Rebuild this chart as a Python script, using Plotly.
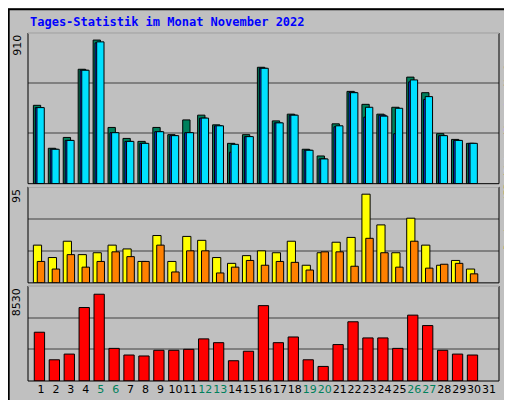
import plotly.graph_objects as go

days = list(range(1, 32))
day_labels = [str(d) for d in days]
weekend = [5, 6, 12, 13, 19, 20, 26, 27]

hits  = [478,216,282,698,876,343,276,258,343,299,389,418,359,246,299,710,383,424,210,169,365,563,484,424,466,650,555,305,270,246,None]
files = [464,210,264,692,859,311,258,246,317,293,311,400,353,192,287,704,371,418,204,151,347,557,406,418,305,621,514,293,264,246,None]
pages = [464,210,264,692,865,311,258,246,317,293,311,400,353,240,287,704,371,418,204,151,353,555,466,412,460,633,531,293,264,246,None]
visits= [37.7,25.3,41.6,28.2,30.1,37.7,33.9,21.4,47.3,21.4,46.4,42.5,25.3,19.5,27.2,32,30.1,41.6,17.6,30.1,40.6,45.4,88.6,57.9,30.1,64.6,37.7,17.6,22.4,13.8,None]
sites = [21.4,13.8,28.2,15.7,21.4,31,26.2,21.4,37.7,10.9,32,32,9.9,15.7,22.4,17.6,21.4,20.5,12.8,31,31,16.6,44.5,30.1,15.7,41.6,14.7,18.6,19.5,9,None]
kbytes= [4423,1924,2441,6663,7869,2958,2355,2269,2786,2786,2872,3820,3475,1838,2700,6835,3475,3992,1924,1321,3303,5371,3906,3906,2958,5974,5026,2786,2441,2355,None]

max_top, max_mid, max_bot = 910, 95, 8530

fig = go.Figure()
def bar(y, color, offset, width, yaxis):
    fig.add_trace(go.Bar(x=days, y=y, marker=dict(color=color, line=dict(color="black", width=1)),
                         offset=offset, width=width, yaxis=yaxis, xaxis="x", hoverinfo="skip"))

bar(hits, "#00805c", -0.51, 0.49, "y")
bar(files, "#0040ff", -0.38, 0.49, "y")
bar(pages, "#00e0ff", -0.27, 0.49, "y")
bar(visits, "#ffff00", -0.51, 0.55, "y2")
bar(sites, "#ff8000", -0.25, 0.5, "y2")
bar(kbytes, "#ff0000", -0.45, 0.69, "y3")

ticktext = [f'<span style="color:#00805c">{l}</span>' if d in weekend else l for d, l in zip(days, day_labels)]

def yax(dom, mx):
    top = mx * 1.01
    return dict(domain=dom, range=[0, top], tickvals=[top/3, 2*top/3], showticklabels=False,
                showgrid=True, gridcolor="#808080", gridwidth=1.5, zeroline=False, showline=False, ticks="")

fig.update_layout(
    width=512, height=400, barmode="overlay", showlegend=False,
    paper_bgcolor="#c0c0c0", plot_bgcolor="#c0c0c0",
    margin=dict(l=20, r=21, t=25, b=24),
    font=dict(family="DejaVu Sans Mono", size=11, color="black"),
    xaxis=dict(range=[0.13, 31.67], tickvals=days, ticktext=ticktext, showgrid=False, tickangle=0,
               zeroline=False, ticks="", tickfont=dict(family="DejaVu Sans", size=11), anchor="y3"),
    yaxis=yax([0.567, 1.0], max_top),
    yaxis2=yax([0.282, 0.558], max_mid),
    yaxis3=yax([0.0, 0.273], max_bot),
)

for dom in ([0.567, 1.0], [0.282, 0.558], [0.0, 0.273]):
    fig.add_shape(type="rect", xref="paper", yref="paper", x0=0, x1=1, y0=dom[0], y1=dom[1],
                  line=dict(color="black", width=1))
    fig.add_shape(type="line", xref="paper", yref="paper", x0=0, x1=1, y0=dom[1], y1=dom[1],
                  line=dict(color="white", width=1))

fig.add_shape(type="rect", xref="paper", yref="paper", x0=-0.041, x1=1.040, y0=-0.065, y1=1.068,
              line=dict(color="black", width=2))

fig.add_annotation(text="<b>Tages-Statistik im Monat November 2022</b>", xref="paper", yref="paper",
                   x=0, y=1.005, xanchor="left", yanchor="bottom", showarrow=False,
                   font=dict(family="DejaVu Sans Mono", size=12, color="#0000ff"))

for txt, y in ((str(max_top), 1.0), (str(max_mid), 0.558), (str(max_bot), 0.273)):
    fig.add_annotation(text=txt, xref="paper", yref="paper", x=-0.005, y=y, xanchor="right", yanchor="top",
                       textangle=-90, showarrow=False, font=dict(family="DejaVu Sans", size=11))

rfont = dict(family="DejaVu Sans Mono", size=10)
fig.add_annotation(text='<span style="color:#00e0ff">Seiten</span>/<span style="color:#0040ff">Dateien</span>/<span style="color:#00805c">Anfragen</span>',
                   xref="paper", yref="paper", x=1.0, xshift=2, y=1.0, xanchor="left", yanchor="top",
                   textangle=-90, showarrow=False, font=rfont)
fig.add_annotation(text='<span style="color:#ff8000">Rechner (IP-Adressen)</span>',
                   xref="paper", yref="paper", x=1.0, xshift=2, y=0.37, xanchor="left", yanchor="bottom",
                   textangle=-90, showarrow=False, font=rfont)
fig.add_annotation(text='<span style="color:#ff0000">kB F</span>',
                   xref="paper", yref="paper", x=1.0, xshift=2, y=0.0, xanchor="left", yanchor="bottom",
                   textangle=-90, showarrow=False, font=rfont)

fig.write_html("out.html")
